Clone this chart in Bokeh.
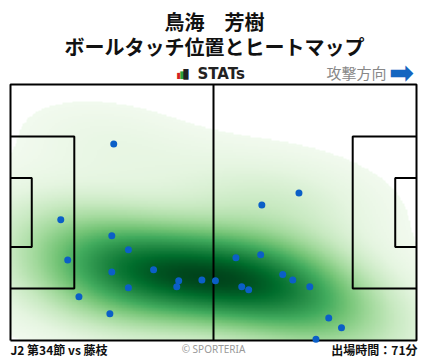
import numpy as np
from bokeh.plotting import figure
from bokeh.models import Range1d, LinearColorMapper
from bokeh.core.properties import value
from bokeh.palettes import Greens256
from bokeh.embed import file_html
from bokeh.resources import INLINE

# Ball touch positions (metres, pitch 105 x 68, attacking to the right)
touch_x = [26.7, 74.6, 65.0, 13.0, 26.2, 30.5, 14.8, 26.2, 37.0, 43.5, 43.0, 49.5, 30.5,
           17.7, 25.7, 53.0, 58.3, 64.7, 59.8, 61.6, 70.4, 73.0, 77.4, 82.3, 85.6, 79.0]
touch_y = [52.2, 39.2, 36.0, 32.1, 27.8, 24.1, 21.4, 18.2, 18.8, 15.9, 14.3, 16.1, 14.0,
           11.6, 7.1, 15.9, 22.0, 22.8, 14.3, 13.5, 17.5, 16.1, 14.3, 6.0, 3.4, 0.3]

title_player = "鳥海　芳樹"
title_sub = "ボールタッチ位置とヒートマップ"
match_text = "J2 第34節 vs 藤枝"
minutes_text = "出場時間：71分"
direction_text = "攻撃方向"
credit_text = "© SPORTERIA"
logo_text = "STATs"

W, H = 428, 359
L, T = 10, 84          # px of pitch frame top-left
PW, PH = 406, 256      # pitch size in px

def X(px):
    return (px - L) / PW * 105.0

def Y(py):
    return (T + PH - py) / PH * 68.0

p = figure(width=W, height=H, output_backend="svg", toolbar_location=None,
           x_range=Range1d(X(0), X(W)), y_range=Range1d(Y(H), Y(0)),
           min_border_left=0, min_border_right=0, min_border_top=0, min_border_bottom=0)
p.xaxis.visible = False
p.yaxis.visible = False
p.grid.visible = False
p.outline_line_color = None
p.background_fill_color = "white"
p.border_fill_color = "white"

# Gaussian KDE (full covariance) of the touches
pts = np.vstack([touch_x, touch_y])
n = pts.shape[1]
bw = n ** (-1.0 / 6.0) * 1.35
cov = np.cov(pts) * bw * bw
inv = np.linalg.inv(cov)
gx = np.linspace(0, 105, 260)
gy = np.linspace(0, 68, 170)
GX, GY = np.meshgrid(gx, gy)
dens = np.zeros_like(GX)
for xi, yi in zip(touch_x, touch_y):
    dx = GX - xi
    dy = GY - yi
    q = inv[0, 0] * dx * dx + 2 * inv[0, 1] * dx * dy + inv[1, 1] * dy * dy
    dens += np.exp(-0.5 * q)
dens /= dens.max()
dens[dens < 0.04] = np.nan
mapper = LinearColorMapper(palette=list(reversed(Greens256)), low=0.0, high=1.0,
                           nan_color=(0, 0, 0, 0))
p.image(image=[dens], x=0, y=0, dw=105, dh=68, color_mapper=mapper)

# Pitch markings
lc = "black"
lw = 2
p.line([0, 105, 105, 0, 0], [0, 0, 68, 68, 0], line_color=lc, line_width=lw)
p.segment(x0=[52.5], y0=[0], x1=[52.5], y1=[68], line_color=lc, line_width=lw)
for x0, x1 in [(0, 16.5), (105, 88.5)]:
    p.line([x0, x1, x1, x0], [13.84, 13.84, 54.16, 54.16], line_color=lc, line_width=lw)
for x0, x1 in [(0, 5.5), (105, 99.5)]:
    p.line([x0, x1, x1, x0], [24.84, 24.84, 43.16, 43.16], line_color=lc, line_width=lw)

p.scatter(touch_x, touch_y, size=7, fill_color="#0b5fc7", line_color=None)

cjk = "Noto Sans CJK JP"
def lab(text, px, py, size, color="#111111", align="center", style="bold", font=cjk):
    p.text(x=[X(px)], y=[Y(py)], text=[text], text_font=value(font),
           text_font_size=f"{size}px", text_font_style=style,
           text_color=color, text_align=align, text_baseline="middle")

lab(title_player, 214, 21, 20)
lab(title_sub, 214, 46, 20)
lab(logo_text, 197, 73, 15, color="#222222", align="left", font="DejaVu Sans")
lab("▮", 178, 75, 8, color="#d42020", font="DejaVu Sans")
lab("▮", 181.5, 74, 10, color="#2aa040", font="DejaVu Sans")
lab("▮", 185.5, 72.5, 14, color="#222222", font="DejaVu Sans")
lab(direction_text, 356, 72, 15, color="#888888", style="normal")
lab("➡", 401, 72, 30, color="#1565c0", font="DejaVu Sans")
lab(match_text, 10, 349, 12, align="left")
lab(credit_text, 213, 348, 10, color="#999999", style="normal", font="Noto Sans")
lab(minutes_text, 417, 349, 12, align="right")

open("out.html", "w").write(file_html(p, INLINE))
